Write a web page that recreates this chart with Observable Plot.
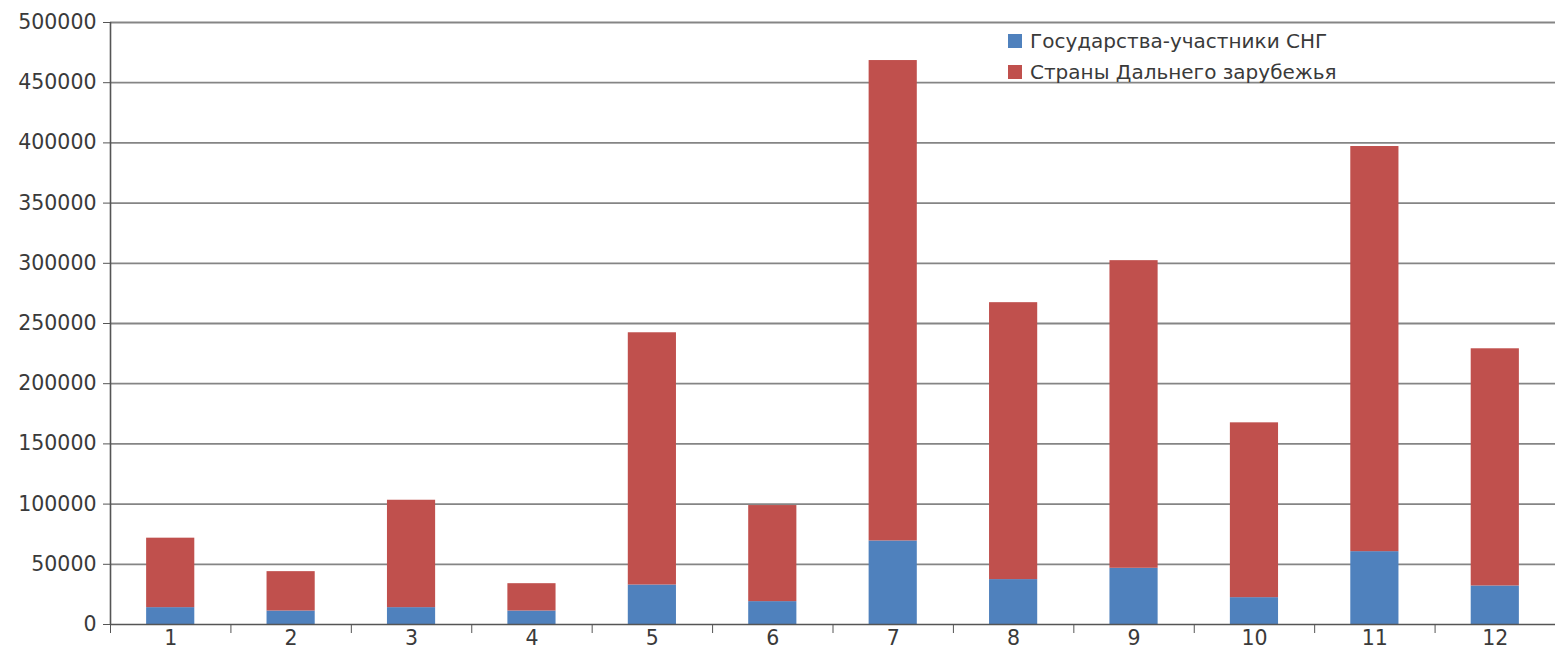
<!DOCTYPE html>
<html>
<head>
<meta charset="utf-8">
<script src="https://cdn.jsdelivr.net/npm/d3@7"></script>
<script src="https://cdn.jsdelivr.net/npm/@observablehq/plot@0.6"></script>
<style>
  html, body { margin: 0; padding: 0; background: #fff; }
  #wrap { position: relative; width: 1555px; height: 666px; font-family: "DejaVu Sans", sans-serif; }
  #legend { position: absolute; left: 1008px; top: 26px; font-size: 20px; color: #3a3a3a; line-height: 31px; white-space: nowrap; }
  #legend .sw { display: inline-block; width: 14px; height: 14px; margin-right: 8px; vertical-align: 0px; }
</style>
</head>
<body>
<div id="wrap"></div>
<script>
const months = [1, 2, 3, 4, 5, 6, 7, 8, 9, 10, 11, 12];
const cis = [14000, 11200, 14000, 11200, 32800, 19000, 69400, 37300, 46700, 22300, 60500, 32000];
const totals = [71700, 43900, 103200, 33900, 242300, 98800, 468400, 267300, 302200, 167500, 397000, 229000];
const seriesNames = ["Государства-участники СНГ", "Страны Дальнего зарубежья"];
const seriesColors = ["#4F81BD", "#C0504D"];
const yTicks = [0, 50000, 100000, 150000, 200000, 250000, 300000, 350000, 400000, 450000, 500000];

const rows = [];
months.forEach((m, i) => {
  rows.push({month: m, series: seriesNames[0], y1: 0, y2: cis[i]});
  rows.push({month: m, series: seriesNames[1], y1: cis[i], y2: totals[i]});
});
const half = 0.2;
const boundaries = [0.5, ...months.map(m => m + 0.5)];

const chart = Plot.plot({
  width: 1555,
  height: 666,
  marginLeft: 110,
  marginRight: 0,
  marginTop: 22,
  marginBottom: 42,
  style: {fontFamily: "DejaVu Sans, sans-serif", fontSize: "20.5px", color: "#3a3a3a", background: "#fff"},
  x: {type: "linear", domain: [0.5, 12.5]},
  y: {domain: [0, 500000]},
  color: {domain: seriesNames, range: seriesColors},
  marks: [
    Plot.ruleY(yTicks.slice(1), {stroke: "#858585", strokeWidth: 1.8}),
    Plot.rectY(rows, {x1: d => d.month - half, x2: d => d.month + half, y1: "y1", y2: "y2", fill: "series"}),
    Plot.ruleY([0], {stroke: "#555", strokeWidth: 1.6}),
    Plot.ruleX([0.5], {stroke: "#555", strokeWidth: 1.6}),
    Plot.axisY({ticks: yTicks, tickFormat: d => String(d), tickSize: 7, tickPadding: 7, stroke: "#555", label: null, fill: "#3a3a3a"}),
    Plot.axisX({ticks: boundaries, tickFormat: () => "", tickSize: 9, stroke: "#555", label: null}),
    Plot.axisX({ticks: months, tickFormat: d => String(d), tickSize: 0, tickPadding: 6, label: null, fill: "#3a3a3a"})
  ]
});

const wrap = document.getElementById("wrap");
wrap.appendChild(chart);
const legend = document.createElement("div");
legend.id = "legend";
legend.innerHTML = seriesNames.map((n, i) =>
  `<div><span class="sw" style="background:${seriesColors[i]}"></span>${n}</div>`).join("");
wrap.appendChild(legend);
</script>
</body>
</html>
